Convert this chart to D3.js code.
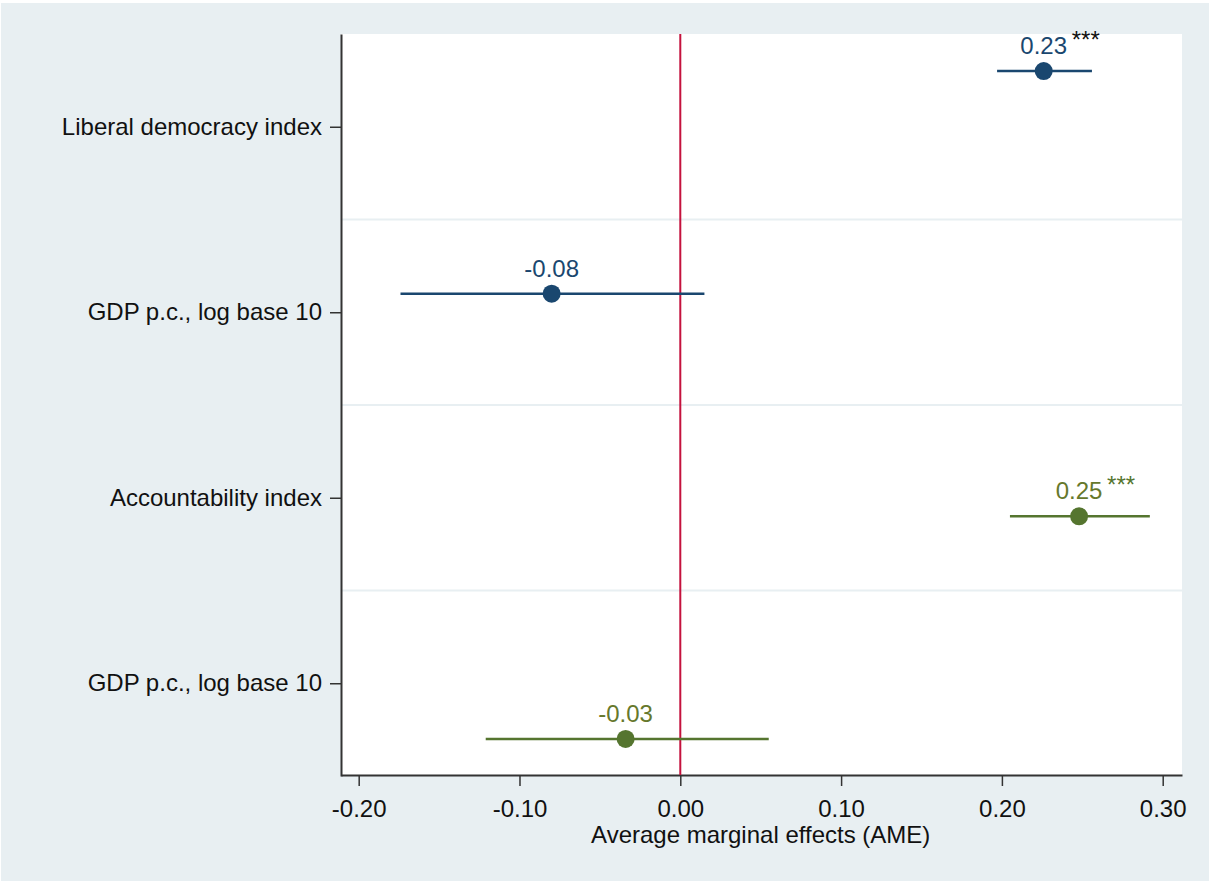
<!DOCTYPE html>
<meta charset="utf-8">
<head>
<script src="https://d3js.org/d3.v7.min.js"></script>
<style>
  body { margin: 0; background: #fff; }
  text { font-family: "Liberation Sans", Arial, sans-serif; }
</style>
</head>
<body>
<div id="my_dataviz"></div>
<script>

// categories on the y axis (top to bottom)
var categories = ["Liberal democracy index", "GDP p.c., log base 10", "Accountability index", "GDP p.c., log base 10"];
// coefficient estimates and confidence bounds
var estimates = [0.226, -0.080, 0.248, -0.034];
var ciLow     = [0.197, -0.174, 0.205, -0.121];
var ciHigh    = [0.256,  0.015, 0.292,  0.055];
// vertical offset of each point from its category tick (coefplot style)
var offsets   = [-0.3, -0.1, 0.1, 0.3];
var valueLabels = ["0.23", "-0.08", "0.25", "-0.03"];
var stars       = ["***", "", "***", ""];
var model       = [0, 0, 1, 1];
var xTicks = [-0.2, -0.1, 0, 0.1, 0.2, 0.3];

var colors = ["#1a476f", "#55752f"];
var labelColors = ["#1a476f", "#66782c"];
var starColors = ["#111111", "#55752f"];

var W = 1210, H = 882;
var margin = {top: 34, right: 28, bottom: 107, left: 341};
var width = W - margin.left - margin.right,
    height = H - margin.top - margin.bottom;

var svg = d3.select("#my_dataviz")
  .append("svg")
    .attr("width", W)
    .attr("height", H);

// outer background
svg.append("rect")
  .attr("x", 1).attr("y", 3)
  .attr("width", W - 2).attr("height", H - 4)
  .attr("fill", "#e8eff2");

var g = svg.append("g")
  .attr("transform", "translate(" + margin.left + "," + margin.top + ")");

// plot region
g.append("rect")
  .attr("width", width).attr("height", height)
  .attr("fill", "#ffffff");

var x = d3.scaleLinear()
  .domain([-0.211, 0.312])
  .range([0, width]);

var y = d3.scaleLinear()
  .domain([0.5, 4.5])
  .range([0, height + 1]);

// grid lines between categories
g.selectAll(".grid")
  .data([1.5, 2.5, 3.5])
  .enter().append("line")
    .attr("x1", 0).attr("x2", width)
    .attr("y1", function(d) { return y(d); })
    .attr("y2", function(d) { return y(d); })
    .attr("stroke", "#e8eff2")
    .attr("stroke-width", 2);

// X axis
var xAxis = g.append("g")
  .attr("transform", "translate(0," + height + ")")
  .call(d3.axisBottom(x).tickValues(xTicks).tickSize(11).tickSizeOuter(0).tickPadding(14));
xAxis.select(".domain").attr("stroke", "#333").attr("stroke-width", 2);
xAxis.selectAll(".tick line").attr("stroke", "#333").attr("stroke-width", 1.5);
xAxis.selectAll(".tick text")
  .attr("font-size", 24)
  .attr("fill", "#111")
  .style("font-family", "'Liberation Sans', Arial, sans-serif")
  .text(function(d) { return d3.format(".2f")(d).replace("−", "-"); });

// Y axis
var yAxis = g.append("g")
  .call(d3.axisLeft(y).tickValues([1, 2, 3, 4]).tickFormat(function(d) { return categories[d - 1]; }).tickSize(11).tickSizeOuter(0).tickPadding(8));
yAxis.select(".domain").attr("stroke", "#333").attr("stroke-width", 2);
yAxis.selectAll(".tick line").attr("stroke", "#333").attr("stroke-width", 1.5);
yAxis.selectAll(".tick text")
  .attr("font-size", 24)
  .attr("fill", "#111")
  .style("font-family", "'Liberation Sans', Arial, sans-serif");

// axis title
g.append("text")
  .attr("x", x(0.05))
  .attr("y", height + 68)
  .attr("text-anchor", "middle")
  .attr("font-size", 24)
  .attr("fill", "#111")
  .text("Average marginal effects (AME)");

// reference line at zero
g.append("line")
  .attr("x1", x(0)).attr("x2", x(0))
  .attr("y1", 0).attr("y2", height)
  .attr("stroke", "#c4123d")
  .attr("stroke-width", 2);

var pts = categories.map(function(c, i) {
  return {cat: i + 1, pos: i + 1 + offsets[i], est: estimates[i], lo: ciLow[i], hi: ciHigh[i],
          lab: valueLabels[i], star: stars[i], m: model[i]};
});

// confidence intervals
g.selectAll(".ci")
  .data(pts)
  .enter().append("line")
    .attr("x1", function(d) { return x(d.lo); })
    .attr("x2", function(d) { return x(d.hi); })
    .attr("y1", function(d) { return y(d.pos); })
    .attr("y2", function(d) { return y(d.pos); })
    .attr("stroke", function(d) { return colors[d.m]; })
    .attr("stroke-width", 2.5);

// points
g.selectAll(".pt")
  .data(pts)
  .enter().append("circle")
    .attr("cx", function(d) { return x(d.est); })
    .attr("cy", function(d) { return y(d.pos); })
    .attr("r", 9)
    .attr("fill", function(d) { return colors[d.m]; });

// value labels
g.selectAll(".lab")
  .data(pts)
  .enter().append("text")
    .attr("x", function(d) { return x(d.est); })
    .attr("y", function(d) { return y(d.pos) - 17; })
    .attr("text-anchor", "middle")
    .attr("font-size", 24)
    .attr("fill", function(d) { return labelColors[d.m]; })
    .text(function(d) { return d.lab; });

// significance stars
g.selectAll(".star")
  .data(pts.filter(function(d) { return d.star; }))
  .enter().append("text")
    .attr("x", function(d) { return x(d.est) + 28; })
    .attr("y", function(d) { return y(d.pos) - 23; })
    .attr("font-size", 24)
    .attr("fill", function(d) { return starColors[d.m]; })
    .text(function(d) { return d.star; });

</script>
</body>
</html>
